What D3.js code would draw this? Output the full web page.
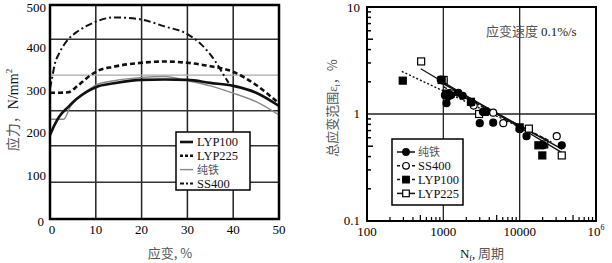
<!DOCTYPE html>
<meta charset="utf-8">
<script src="https://d3js.org/d3.v7.min.js"></script>
<style>
  body { margin: 0; background: #fff; }
  text { font-family: "Liberation Serif", "Times New Roman", serif; }
  .cjk { font-family: "Noto Sans CJK SC", sans-serif; fill: #555; }
</style>
<div id="chart"></div>
<script>
// ---- left chart data: stress-strain curves ----
var strainTicks = [0, 10, 20, 30, 40, 50];
var stressTicks = [0, 100, 200, 300, 400, 500];
var stressGrid = [86, 171, 253, 420];
var stressGridLight = [336];

var lyp100Strain = [0, 1, 2, 4, 6, 8, 10, 14, 20, 25, 30, 35, 40, 45, 50];
var lyp100Stress = [196, 220, 239, 262, 282, 297, 308, 317, 325, 326, 325, 318, 311, 295, 264];
var lyp225Strain = [0, 2, 4, 6, 8, 10, 14, 20, 25, 30, 35, 40, 45, 50];
var lyp225Stress = [295, 295, 296, 311, 329, 344, 356, 365, 368, 365, 357, 344, 313, 270];
var ironStrain = [0, 3, 4.5, 6, 8, 10, 14, 20, 25, 30, 35, 40, 45, 50];
var ironStress = [233, 233, 264, 282, 299, 313, 323, 331, 333, 323, 311, 294, 274, 243];
var ss400Strain = [0, 0.5, 1, 2, 3, 4, 6, 8, 10, 14, 18, 20, 25, 30, 33, 36, 38, 39];
var ss400Stress = [305, 332, 360, 387, 406, 420, 438, 451, 461, 471, 469, 466, 450, 432, 408, 370, 335, 318];

var legendLeft = ["LYP100", "LYP225", "纯铁", "SS400"];

// ---- right chart data: strain range vs cycles ----
var cycleTicks = [100, 1000, 10000, 100000];
var cycleTickLabels = ["100", "1000", "10000", "10⁶"];
var rangeTicks = [0.1, 1, 10];

var ironN = [925, 1050, 1100, 1150, 1250, 1570, 1790, 2350, 3300, 3600, 3000, 4500, 10100, 12300, 20400, 35600];
var ironE = [2.1, 1.5, 1.26, 1.45, 1.5, 1.58, 1.48, 1.28, 1.05, 1.05, 0.82, 0.83, 0.73, 0.62, 0.51, 0.51];
var ss400N = [1000, 1200, 2500, 4500, 6100, 10000, 30600];
var ss400E = [2.05, 1.55, 1.2, 1.03, 0.82, 0.72, 0.62];
var lyp100N = [294, 950, 1100, 2300, 3500, 10000, 17600, 19800];
var lyp100E = [2.05, 2.08, 1.55, 1.3, 1.05, 0.75, 0.51, 0.41];
var lyp225N = [512, 1010, 1250, 2940, 13200, 21000, 35600];
var lyp225E = [3.1, 2.08, 1.55, 1.0, 0.73, 0.52, 0.41];

// regression line end points
var ironFitN = [900, 36000], ironFitE = [2.0, 0.47];
var ss400FitN = [1000, 26000], ss400FitE = [1.8, 0.55];
var lyp100FitN = [286, 22000], lyp100FitE = [2.5, 0.58];
var lyp225FitN = [506, 35000], lyp225FitE = [2.65, 0.44];

var legendRight = ["纯铁", "SS400", "LYP100", "LYP225"];

const svg = d3.select("#chart").append("svg")
  .attr("width", 612).attr("height", 263);

// ================= left chart =================
const xL = d3.scaleLinear().domain([0, 50]).range([50, 279]);
const yL = d3.scaleLinear().domain([0, 500]).range([219, 5]);
const gL = svg.append("g");

// grid
gL.selectAll(".vg").data(strainTicks.slice(1, -1)).join("line")
  .attr("x1", d => xL(d)).attr("x2", d => xL(d))
  .attr("y1", yL(500)).attr("y2", yL(0))
  .attr("stroke", "#222").attr("stroke-width", 1.5);
gL.selectAll(".hg").data(stressGrid).join("line")
  .attr("x1", xL(0)).attr("x2", xL(50))
  .attr("y1", d => yL(d)).attr("y2", d => yL(d))
  .attr("stroke", "#333").attr("stroke-width", 1.5);
gL.selectAll(".hgl").data(stressGridLight).join("line")
  .attr("x1", xL(0)).attr("x2", xL(50))
  .attr("y1", d => yL(d)).attr("y2", d => yL(d))
  .attr("stroke", "#aaa").attr("stroke-width", 1.2);

// curves
function curve(xs, ys) {
  return d3.line().x(d => xL(d[0])).y(d => yL(d[1])).curve(d3.curveMonotoneX)(xs.map((v, i) => [v, ys[i]]));
}
var leftSeries = [
  {x: ironStrain, y: ironStress, color: "#888", w: 1.4, dash: null},
  {x: ss400Strain, y: ss400Stress, color: "#111", w: 2, dash: "7,3,2,3"},
  {x: lyp225Strain, y: lyp225Stress, color: "#111", w: 2.6, dash: "5,3"},
  {x: lyp100Strain, y: lyp100Stress, color: "#111", w: 2.6, dash: null}
];
gL.selectAll(".curve").data(leftSeries).join("path")
  .attr("d", d => curve(d.x, d.y))
  .attr("fill", "none")
  .attr("stroke", d => d.color)
  .attr("stroke-width", d => d.w)
  .attr("stroke-dasharray", d => d.dash);

// frame
gL.append("rect")
  .attr("x", xL(0)).attr("y", yL(500))
  .attr("width", xL(50) - xL(0)).attr("height", yL(0) - yL(500))
  .attr("fill", "none").attr("stroke", "#000").attr("stroke-width", 2.5);

// tick labels
gL.selectAll(".xt").data(strainTicks).join("text")
  .attr("x", d => xL(d) + (d === 0 ? 2 : 0)).attr("y", 234)
  .attr("text-anchor", "middle").attr("font-size", 13).text(d => d);
gL.selectAll(".yt").data(stressTicks).join("text")
  .attr("x", d => d === 0 ? 44 : 46).attr("y", d => Math.max(yL(d) + (d === 0 ? 7 : 4), 12))
  .attr("text-anchor", "end").attr("font-size", 13).text(d => d);

// axis titles
gL.append("text").attr("class", "cjk")
  .attr("x", 170).attr("y", 258).attr("text-anchor", "middle").attr("font-size", 13)
  .text("应变, %");
const yt = gL.append("text")
  .attr("transform", "translate(18,110) rotate(-90)")
  .attr("text-anchor", "middle").attr("font-size", 14);
yt.append("tspan").attr("class", "cjk").text("应力，");
yt.append("tspan").attr("fill", "#111").text("N/mm");
yt.append("tspan").attr("fill", "#111").attr("font-size", 9).attr("dy", -6).text("2");

// legend
const lgL = gL.append("g");
lgL.append("rect").attr("x", 176).attr("y", 132).attr("width", 74).attr("height", 58)
  .attr("fill", "#fff").attr("stroke", "#000").attr("stroke-width", 1.5);
var legLeftStyles = [leftSeries[3], leftSeries[2], leftSeries[0], leftSeries[1]];
legendLeft.forEach(function(name, i) {
  var yy = 142 + i * 13.8;
  var s = legLeftStyles[i];
  lgL.append("line").attr("x1", 180).attr("x2", 193).attr("y1", yy).attr("y2", yy)
    .attr("stroke", s.color).attr("stroke-width", s.w)
    .attr("stroke-dasharray", s.dash ? (i === 3 ? "4,2,2,2" : "3,2") : null);
  lgL.append("text").attr("x", 197).attr("y", yy + 4.3)
    .attr("class", name === "纯铁" ? "cjk" : null)
    .attr("font-size", name === "纯铁" ? 11 : 12.5)
    .attr("fill", "#111").text(name);
});

// ================= right chart =================
const xR = d3.scaleLog().domain([100, 100000]).range([367, 596]);
const yR = d3.scaleLog().domain([0.1, 10]).range([221, 7]);
const gR = svg.append("g");

// grid
gR.selectAll(".vg").data([1000, 10000]).join("line")
  .attr("x1", d => xR(d)).attr("x2", d => xR(d))
  .attr("y1", yR(10)).attr("y2", yR(0.1))
  .attr("stroke", "#222").attr("stroke-width", 1.3);
gR.selectAll(".hg").data([1]).join("line")
  .attr("x1", xR(100)).attr("x2", xR(100000))
  .attr("y1", d => yR(d)).attr("y2", d => yR(d))
  .attr("stroke", "#222").attr("stroke-width", 1.3);

// minor ticks (inward)
var minorX = [], minorY = [];
[100, 1000, 10000].forEach(b => { for (var k = 2; k <= 9; k++) minorX.push(b * k); });
[0.1, 1].forEach(b => { for (var k = 2; k <= 9; k++) minorY.push(b * k); });
gR.selectAll(".mx").data(minorX).join("line")
  .attr("x1", d => xR(d)).attr("x2", d => xR(d))
  .attr("y1", yR(0.1)).attr("y2", d => yR(0.1) - (Math.round(d / Math.pow(10, Math.floor(Math.log10(d)))) === 5 ? 6 : 4))
  .attr("stroke", "#000").attr("stroke-width", 1.2);
gR.selectAll(".my").data(minorY).join("line")
  .attr("y1", d => yR(d)).attr("y2", d => yR(d))
  .attr("x1", xR(100)).attr("x2", d => xR(100) + (Math.abs(d * 10 / Math.pow(10, Math.floor(Math.log10(d * 10))) - 5) < 0.01 ? 6 : 4))
  .attr("stroke", "#000").attr("stroke-width", 1.5);

// regression lines
var fits = [
  {n: lyp225FitN, e: lyp225FitE, dash: null, w: 1.3},
  {n: ironFitN, e: ironFitE, dash: null, w: 1.6},
  {n: ss400FitN, e: ss400FitE, dash: "4,2", w: 1.4},
  {n: lyp100FitN, e: lyp100FitE, dash: "2,2", w: 1.4}
];
gR.selectAll(".fit").data(fits).join("line")
  .attr("x1", d => xR(d.n[0])).attr("y1", d => yR(d.e[0]))
  .attr("x2", d => xR(d.n[1])).attr("y2", d => yR(d.e[1]))
  .attr("stroke", "#111").attr("stroke-width", d => d.w)
  .attr("stroke-dasharray", d => d.dash);

// markers
function markers(ns, es, kind) {
  var pts = ns.map((n, i) => [n, es[i]]);
  if (kind === "circle" || kind === "ocircle") {
    gR.append("g").selectAll("circle").data(pts).join("circle")
      .attr("cx", d => xR(d[0])).attr("cy", d => yR(d[1])).attr("r", 3.5)
      .attr("fill", kind === "circle" ? "#000" : "#fff")
      .attr("stroke", "#000").attr("stroke-width", 1.2);
  } else {
    gR.append("g").selectAll("rect").data(pts).join("rect")
      .attr("x", d => xR(d[0]) - 3.5).attr("y", d => yR(d[1]) - 3.5)
      .attr("width", 7).attr("height", 7)
      .attr("fill", kind === "square" ? "#000" : "#fff")
      .attr("stroke", "#000").attr("stroke-width", 1.2);
  }
}
markers(ss400N, ss400E, "ocircle");
markers(lyp225N, lyp225E, "osquare");
markers(lyp100N, lyp100E, "square");
markers(ironN, ironE, "circle");

// frame
gR.append("rect")
  .attr("x", xR(100)).attr("y", yR(10))
  .attr("width", xR(100000) - xR(100)).attr("height", yR(0.1) - yR(10))
  .attr("fill", "none").attr("stroke", "#000").attr("stroke-width", 2);

// tick labels
const xtl = gR.selectAll(".xt").data(cycleTicks).join("text")
  .attr("x", d => xR(d)).attr("y", 236)
  .attr("text-anchor", "middle").attr("font-size", 13);
xtl.each(function(d, i) {
  var t = d3.select(this);
  if (i === 3) {
    t.append("tspan").text("10");
    t.append("tspan").attr("font-size", 8).attr("dy", -6).text("6");
  } else t.text(cycleTickLabels[i]);
});
gR.selectAll(".yt").data(rangeTicks).join("text")
  .attr("x", 360).attr("y", d => Math.max(yR(d) + 4, 12))
  .attr("text-anchor", "end").attr("font-size", 13).text(d => d);

// axis titles
const xr = gR.append("text").attr("x", 482).attr("y", 258)
  .attr("text-anchor", "middle").attr("font-size", 13);
xr.append("tspan").attr("fill", "#111").text("N");
xr.append("tspan").attr("fill", "#111").attr("font-size", 8).attr("dy", 3).text("f");
xr.append("tspan").attr("fill", "#111").attr("dy", -3).text(",");
xr.append("tspan").attr("class", "cjk").text(" 周期");

const yr = gR.append("text")
  .attr("transform", "translate(337,108) rotate(-90)")
  .attr("text-anchor", "middle").attr("font-size", 13);
yr.append("tspan").attr("class", "cjk").text("总应变范围");
yr.append("tspan").attr("fill", "#555").text("ε");
yr.append("tspan").attr("fill", "#555").attr("font-size", 8).attr("dy", 3).text("t");
yr.append("tspan").attr("class", "cjk").attr("dy", -3).text("，%");

gR.append("text").attr("x", 486).attr("y", 36).attr("font-size", 13)
  .call(t => {
    t.append("tspan").attr("class", "cjk").text("应变速度 ");
    t.append("tspan").attr("fill", "#222").text("0.1%/s");
  });

// legend
const lgR = gR.append("g");
lgR.append("rect").attr("x", 392).attr("y", 139).attr("width", 71).attr("height", 66)
  .attr("fill", "#fff").attr("stroke", "#000").attr("stroke-width", 1.5);
var legKinds = ["circle", "ocircle", "square", "osquare"];
var legDash = [null, "3,2", "3,2", null];
legendRight.forEach(function(name, i) {
  var yy = 152 + i * 13.8;
  lgR.append("line").attr("x1", 397).attr("x2", 415).attr("y1", yy).attr("y2", yy)
    .attr("stroke", "#111").attr("stroke-width", 1.5).attr("stroke-dasharray", legDash[i]);
  var k = legKinds[i];
  if (k === "circle" || k === "ocircle") {
    lgR.append("circle").attr("cx", 406).attr("cy", yy).attr("r", 3.3)
      .attr("fill", k === "circle" ? "#000" : "#fff").attr("stroke", "#000").attr("stroke-width", 1.2);
  } else {
    lgR.append("rect").attr("x", 402.7).attr("y", yy - 3.3).attr("width", 6.6).attr("height", 6.6)
      .attr("fill", k === "square" ? "#000" : "#fff").attr("stroke", "#000").attr("stroke-width", 1.2);
  }
  lgR.append("text").attr("x", 418).attr("y", yy + 4.3)
    .attr("class", name === "纯铁" ? "cjk" : null)
    .attr("font-size", name === "纯铁" ? 11 : 12.5)
    .attr("fill", "#111").text(name);
});
</script>
